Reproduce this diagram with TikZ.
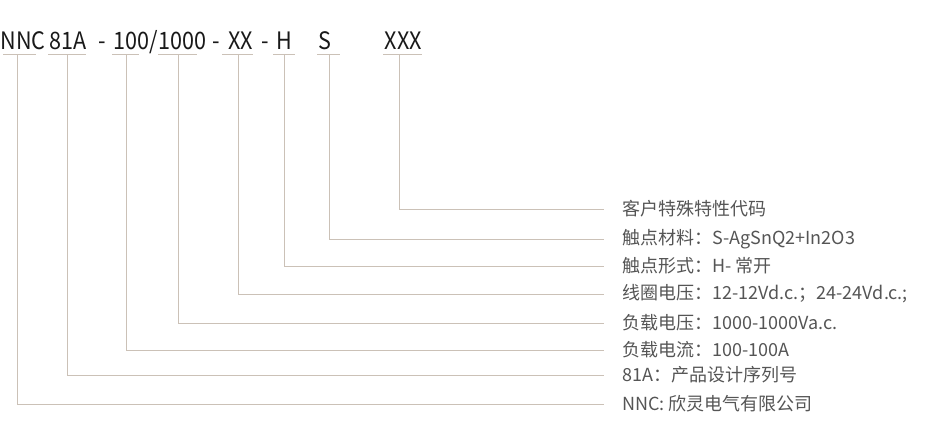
\documentclass[tikz,border=0pt]{standalone}
\usepackage{fontspec}
\setmainfont{Noto Sans CJK SC}
\newfontfamily\codefont[FakeStretch=0.9]{Noto Sans CJK SC}
\definecolor{linec}{HTML}{CBC1B7}
\definecolor{txtgray}{HTML}{555555}
\begin{document}
\begin{tikzpicture}[x=1pt,y=-1pt,
  code/.style={font=\codefont\fontsize{24}{24}\selectfont, text=black!90, anchor=base, inner sep=0pt},
  desc/.style={font=\fontsize{18}{18}\selectfont, text=txtgray, anchor=west, inner sep=0pt},
  ln/.style={draw=linec, line width=1pt}]
\useasboundingbox (0,0) rectangle (928,433);
% top code
\node[code] (tNNC) at (23,49.5) {NNC};
\node[code] (t81A) at (68.5,49.5) {81A};
\node[code] (d1) at (102.5,49.5) {-};
\node[code] (t100) at (160,49.5) {100/1000};
\node[code] (d2) at (216.5,49.5) {-};
\node[code] (tXX) at (240.5,49.5) {XX};
\node[code] (d3) at (265,49.5) {-};
\node[code] (tH) at (284.5,49.5) {H};
\node[code] (tS) at (325,49.5) {S};
\node[code] (tXXX) at (403.5,49.5) {XXX};
% underline coordinates
\coordinate (uNNCa) at (3,55);   \coordinate (uNNCb) at (36,55);   \coordinate (uNNC) at (17.7,55);
\coordinate (u81Aa) at (48,55);  \coordinate (u81Ab) at (86,55);   \coordinate (u81A) at (67.7,55);
\coordinate (u100a) at (112,55); \coordinate (u100b) at (139,55);  \coordinate (u100) at (126,55);
\coordinate (u1000a) at (158,55);\coordinate (u1000b) at (197,55); \coordinate (u1000) at (178,55);
\coordinate (uXXa) at (222,55);  \coordinate (uXXb) at (253,55);   \coordinate (uXX) at (238,55);
\coordinate (uHa) at (273,55);   \coordinate (uHb) at (295,55);    \coordinate (uH) at (284.3,55);
\coordinate (uSa) at (317,55);   \coordinate (uSb) at (340,55);    \coordinate (uS) at (329.3,55);
\coordinate (uXXXa) at (383,55); \coordinate (uXXXb) at (422,55);  \coordinate (uXXX) at (399,55);
\foreach \n in {NNC,81A,100,1000,XX,H,S,XXX}{\draw[ln] (u\n a) -- (u\n b);}
% descriptions
\node[desc] (lXXX) at (622,209) {客户特殊特性代码};
\node[desc] (lS) at (622,239) {触点材料：S-AgSnQ2+In2O3};
\node[desc] (lH) at (622,266) {触点形式：H- 常开};
\node[desc] (lXX) at (622,294) {线圈电压：12-12Vd.c.；24-24Vd.c.;};
\node[desc] (l1000) at (622,323) {负载电压：1000-1000Va.c.};
\node[desc] (l100) at (622,350) {负载电流：100-100A};
\node[desc] (l81A) at (622,375) {81A：产品设计序列号};
\node[desc] (lNNC) at (622,404) {NNC: 欣灵电气有限公司};
% connectors
\foreach \n in {NNC,81A,100,1000,XX,H,S,XXX}{
  \draw[ln] (u\n) |- ([xshift=-18pt]l\n.west);}
\end{tikzpicture}
\end{document}
